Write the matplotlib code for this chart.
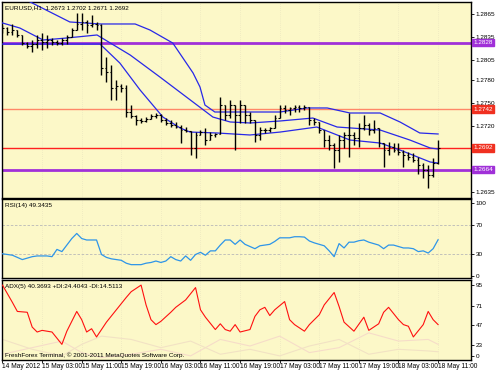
import matplotlib
matplotlib.use("Agg")
import matplotlib.pyplot as plt
import numpy as np

plt.rcParams['font.family'] = ['Liberation Sans Narrow', 'Liberation Sans', 'DejaVu Sans']

# ---------------- data ----------------
x_labels = ["14 May 2012", "15 May 03:00", "15 May 11:00", "15 May 19:00", "16 May 03:00",
            "16 May 11:00", "16 May 19:00", "17 May 03:00", "17 May 11:00", "17 May 19:00",
            "18 May 03:00", "18 May 11:00"]

opens = [1.2844,1.2847,1.2842,1.2844,1.2838,1.2827,1.2824,1.2826,1.2831,1.2829,
         1.2831,1.2829,1.2827,1.2831,1.2835,1.2844,1.2852,1.2855,1.2851,1.2852,
         1.2851,1.2795,1.2790,1.2769,1.2772,1.2769,1.2738,1.2733,1.2728,1.2727,
         1.2729,1.2733,1.2735,1.2728,1.2724,1.2722,1.2719,1.2715,1.2714,1.2692,
         1.2709,1.2713,1.2702,1.2709,1.2710,1.2747,1.2735,1.2747,1.2735,1.2747,
         1.2735,1.2728,1.2709,1.2715,1.2715,1.2718,1.2731,1.2744,1.2741,1.2744,
         1.2745,1.2744,1.2745,1.2728,1.2725,1.2715,1.2702,1.2696,1.2689,1.2702,
         1.2709,1.2709,1.2705,1.2718,1.2722,1.2715,1.2718,1.2698,1.2689,1.2693,
         1.2689,1.2687,1.2683,1.2680,1.2676,1.2670,1.2663,1.2657,1.2673]
highs = [1.2851,1.2848,1.2852,1.2844,1.2838,1.2829,1.2831,1.2838,1.2840,1.2838,
         1.2834,1.2831,1.2834,1.2838,1.2847,1.2866,1.2866,1.2857,1.2864,1.2855,
         1.2852,1.2809,1.2799,1.2780,1.2775,1.2773,1.2747,1.2735,1.2731,1.2732,
         1.2736,1.2737,1.2736,1.2731,1.2728,1.2725,1.2722,1.2719,1.2714,1.2713,
         1.2715,1.2718,1.2713,1.2711,1.2758,1.2747,1.2754,1.2747,1.2754,1.2747,
         1.2738,1.2728,1.2719,1.2718,1.2719,1.2735,1.2747,1.2747,1.2745,1.2747,
         1.2747,1.2747,1.2745,1.2731,1.2725,1.2715,1.2709,1.2698,1.2709,1.2713,
         1.2737,1.2713,1.2724,1.2735,1.2724,1.2728,1.2718,1.2698,1.2700,1.2698,
         1.2698,1.2689,1.2687,1.2685,1.2680,1.2673,1.2670,1.2679,1.2702]
lows = [1.2840,1.2838,1.2838,1.2835,1.2825,1.2821,1.2816,1.2821,1.2818,1.2821,
        1.2825,1.2825,1.2825,1.2826,1.2835,1.2844,1.2844,1.2840,1.2848,1.2844,
        1.2786,1.2777,1.2754,1.2754,1.2764,1.2732,1.2731,1.2722,1.2724,1.2725,
        1.2729,1.2731,1.2725,1.2722,1.2719,1.2718,1.2698,1.2713,1.2683,1.2679,
        1.2709,1.2696,1.2702,1.2706,1.2710,1.2728,1.2731,1.2689,1.2724,1.2724,
        1.2724,1.2700,1.2702,1.2711,1.2713,1.2718,1.2731,1.2737,1.2735,1.2738,
        1.2738,1.2741,1.2722,1.2722,1.2711,1.2693,1.2689,1.2666,1.2674,1.2692,
        1.2680,1.2696,1.2693,1.2715,1.2709,1.2711,1.2693,1.2667,1.2683,1.2687,
        1.2683,1.2667,1.2676,1.2674,1.2658,1.2653,1.2640,1.2654,1.2671]
closes = [1.2847,1.2842,1.2844,1.2838,1.2827,1.2824,1.2826,1.2831,1.2829,1.2831,
          1.2829,1.2827,1.2831,1.2835,1.2844,1.2852,1.2855,1.2851,1.2852,1.2851,
          1.2795,1.2790,1.2769,1.2772,1.2769,1.2738,1.2733,1.2728,1.2727,1.2729,
          1.2733,1.2735,1.2728,1.2724,1.2722,1.2719,1.2715,1.2714,1.2692,1.2709,
          1.2713,1.2702,1.2709,1.2710,1.2747,1.2735,1.2747,1.2735,1.2747,1.2735,
          1.2728,1.2709,1.2715,1.2715,1.2718,1.2731,1.2744,1.2741,1.2744,1.2745,
          1.2744,1.2745,1.2728,1.2725,1.2715,1.2702,1.2696,1.2689,1.2702,1.2709,
          1.2709,1.2705,1.2718,1.2722,1.2715,1.2718,1.2698,1.2689,1.2693,1.2689,
          1.2687,1.2683,1.2680,1.2676,1.2670,1.2663,1.2657,1.2673,1.2692]

# band lines (bar index, price)
upper_idx = [0, 5.6, 9.6, 13.6, 19.7, 26.8, 29.8, 34.4, 38.5, 39.9, 40.9, 42.9,
             50, 56.1, 61.5, 65.6, 70.2, 76.3, 80.3, 84.3, 88]
upper_val = [1.29025, 1.28805, 1.28676, 1.28547, 1.28521, 1.28521, 1.28443, 1.28275, 1.27888, 1.27707,
             1.27474, 1.27384, 1.27384, 1.27384, 1.27436, 1.27436, 1.27371, 1.27371, 1.27255, 1.27113,
             1.27100]
mid_idx = [0, 3.5, 8.2, 13, 19.1, 25.8, 31.8, 42.5, 46, 50, 56.1, 62.7, 67.6, 76.3, 82.3, 86.4, 88]
mid_val = [1.28534, 1.28469, 1.28314, 1.28340, 1.28379, 1.28120, 1.27836, 1.27319, 1.27255, 1.27242,
           1.27268, 1.27306, 1.27190, 1.27151, 1.27022, 1.26919, 1.26906]
lower_idx = [0, 19.7, 23.7, 27.8, 32.4, 35.9, 37.9, 43.3, 50, 56.1, 63.5, 70.2, 76.3, 80.3, 86.4, 88]
lower_val = [1.28262, 1.28262, 1.28017, 1.27668, 1.27319, 1.27177, 1.27125, 1.27113, 1.27087, 1.27125,
             1.27190, 1.27022, 1.26983, 1.26893, 1.26738, 1.26725]

hlines_purple = [1.2828, 1.2664]
hline_salmon = 1.2742
hline_red = 1.2692

rsi_val = [30,29,28,25,22,24,26,27,27,27,26,36,33,42,51,58,51,49,49,49,
           29,25,23,22,21,17,15,15,15,17,18,20,18,20,26,22,20,27,21,29,
           32,28,34,34,42,49,49,43,49,43,40,37,41,42,43,47,52,52,52,53.5,
           53.5,53,47.6,45,43,41,34,26,44,38,46,46,48,49,46,44,42,37,42,42,
           40,38,38,37,33,34,31,37,49.34]

adx_idx = [0,2,3,5,6,7,8,10,12,13,14,15,16,17,18,19,21,23,25,26,28,29,30,31,32,34,35,37,39,40,
           41,43,44,45,46,47,48,50,51,52,53,54,55,57,58,59,61,62,64,65,67,68,69,71,73,74,76,77,78,80,
           81,82,83,85,86,87,88]
adx_val = [96,75,64,63,45,39,41,39,24,40,52,64,54,39,43,33,51,66,81,88,96,72,54,48,52,63,69,78,93,66,
           57,42,49,42,40,48,39,42,58,66,69,59,66,76,54,48,40,48,60,72,87,70,51,40,57,41,49,63,69,54,
           48,46,33,48,64,54,48]
pdi_idx = [0, 6, 12, 16, 20, 26, 32, 38, 44, 50, 56, 62, 68, 74, 80, 86, 88]
pdi_val = [12, 20, 28, 14, 8, 12, 18, 10, 30, 22, 34, 14, 20, 38, 28, 30, 24]
mdi_idx = [0, 6, 12, 16, 20, 26, 32, 38, 44, 50, 56, 62, 68, 74, 80, 86, 88]
mdi_val = [30, 18, 10, 24, 34, 30, 20, 28, 12, 18, 10, 22, 30, 12, 18, 16, 15]

# ---------------- layout ----------------
W, H = 496, 372
fig = plt.figure(figsize=(W/100, H/100), dpi=100)
fig.patch.set_facecolor('white')
BG = '#FCF8C8'
FS = 4.6

def frac(l, t, r, b):
    return [l/W, 1 - b/H, (r-l)/W, (b-t)/H]

ax = fig.add_axes(frac(2, 2, 471, 198))
ax_r = fig.add_axes(frac(2, 199, 471, 278), sharex=ax)
ax_a = fig.add_axes(frac(2, 280, 471, 360), sharex=ax)

n = len(closes)
xs = np.arange(n)
for a in (ax, ax_r, ax_a):
    a.set_facecolor(BG)
    for s in a.spines.values():
        s.set_color('black'); s.set_linewidth(1.0)
    a.yaxis.tick_right()
    a.tick_params(axis='y', length=2, width=0.6, labelsize=FS, pad=1.5, colors='black')
    a.tick_params(axis='x', length=0)
    a.set_xlim(-0.1, 94.65)
    for xt in range(0, 89, 8):
        a.axvline(xt, color='#E6E1BC', lw=0.5, ls=(0, (1, 2)), zorder=0)

# main price panel
ax.set_ylim(1.26273, 1.28805)
for p in hlines_purple:
    ax.axhline(p, color='#A030D8', lw=2.0, zorder=2)
ax.axhline(hline_salmon, color='#FF8868', lw=1.0, zorder=2)
ax.axhline(hline_red, color='#FF2020', lw=1.0, zorder=2)

for bi, bv in ((upper_idx, upper_val), (mid_idx, mid_val), (lower_idx, lower_val)):
    ax.plot(bi, bv, color='#2828E8', lw=0.9, zorder=3)

ax.vlines(xs, lows, highs, color='black', lw=1.0, zorder=4)
ax.hlines(opens, xs - 0.35, xs, color='black', lw=0.8, zorder=4)
ax.hlines(closes, xs, xs + 0.35, color='black', lw=0.8, zorder=4)

yt = [1.2865, 1.2835, 1.2805, 1.2780, 1.2750, 1.2720, 1.2635]
ax.set_yticks(yt)
ax.set_yticklabels([f"{v:.4f}" for v in yt])
ax.tick_params(axis='x', labelbottom=False)

def price_tag(a, val, col):
    a.annotate(f"{val:.4f}", xy=(1.0, val), xycoords=('axes fraction', 'data'),
               xytext=(1.5, 0), textcoords='offset points', va='center', ha='left',
               fontsize=FS, color='white', zorder=10,
               bbox=dict(boxstyle='square,pad=0.2', fc=col, ec=col))

price_tag(ax, hlines_purple[0], '#A030D8')
price_tag(ax, hline_salmon, '#F03020')
price_tag(ax, hline_red, '#F03020')
price_tag(ax, hlines_purple[1], '#A030D8')

ax.text(0.006, 0.985, "EURUSD,H1  1.2673 1.2702 1.2671 1.2692", transform=ax.transAxes,
        fontsize=FS, va='top', ha='left', color='black')

# RSI panel
ax_r.set_ylim(-3.4, 105.5)
for lv in (30, 70):
    ax_r.axhline(lv, color='#B8B8B8', lw=0.6, ls=(0, (3, 2)), zorder=1)
ax_r.plot(xs, rsi_val, color='#2E95E8', lw=0.9, zorder=3)
ax_r.set_yticks([100, 70, 30, 0])
ax_r.set_yticklabels(['100', '70', '30', '0'])
ax_r.tick_params(axis='x', labelbottom=False)
ax_r.text(0.006, 0.95, "RSI(14) 49.3435", transform=ax_r.transAxes,
          fontsize=FS, va='top', ha='left', color='black')

# ADX panel
ax_a.set_ylim(5.0, 102.2)
ax_a.plot(pdi_idx, pdi_val, color='#F6DCC8', lw=0.8, zorder=2)
ax_a.plot(mdi_idx, mdi_val, color='#F2E2C4', lw=0.8, zorder=2)
ax_a.plot(adx_idx, adx_val, color='#FF1010', lw=0.8, zorder=3)
ax_a.set_yticks([96, 71, 47, 23, 9.8])
ax_a.set_yticklabels(['95', '71', '47', '23', '0'])
ax_a.text(0.006, 0.95, "ADX(5) 40.3693 +DI:24.4043 -DI:14.5113", transform=ax_a.transAxes,
          fontsize=FS, va='top', ha='left', color='black')
ax_a.text(0.006, 0.03, "FreshForex Terminal, \u00a9 2001-2011 MetaQuotes Software Corp.",
          transform=ax_a.transAxes, fontsize=FS, va='bottom', ha='left', color='black')

ax_a.set_xticks(list(range(0, 89, 8)))
ax_a.set_xticklabels(x_labels)
ax_a.tick_params(axis='x', length=2, width=0.6, labelsize=4.8, pad=0.5, direction='out')
for lab in ax_a.get_xticklabels():
    lab.set_ha('left')

fig.savefig('out.png', dpi=100, facecolor='white')
